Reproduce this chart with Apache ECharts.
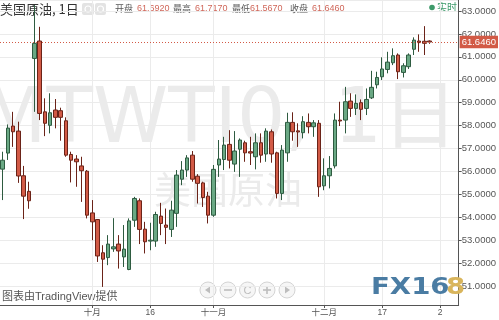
<!DOCTYPE html>
<html><head><meta charset="utf-8">
<script src="https://cdn.jsdelivr.net/npm/echarts@6/dist/echarts.min.js"></script>
<style>html,body{margin:0;padding:0;background:#fff}#c{width:499px;height:320px}</style>
</head><body><div id="c"></div>
<script>
const openVals = [56.10,56.80,57.98,57.76,55.81,55.13,60.93,61.69,58.60,58.01,
 58.68,58.65,58.21,56.74,56.54,56.24,56.01,54.19,53.90,52.45,
 52.24,52.62,52.83,52.27,51.72,53.87,54.72,53.48,52.96,52.96,
 54.05,53.66,53.47,54.17,55.66,56.06,56.71,55.79,55.50,54.92,
 54.09,56.28,56.52,57.18,56.32,56.97,57.25,56.86,56.64,57.25,
 56.76,57.73,56.81,55.04,56.81,58.14,57.77,57.69,58.14,57.95,
 58.10,55.37,55.81,56.24,58.24,58.24,59.07,58.75,59.00,58.75,
 59.21,59.78,60.13,60.45,60.74,61.08,60.32,60.57,61.33,61.69,
 61.68,61.692];
const closeVals = [56.49,57.89,57.73,55.80,54.92,54.72,61.59,58.53,58.10,58.56,
 58.36,58.36,56.71,56.49,56.42,56.03,54.09,53.80,52.31,52.17,
 52.83,52.71,52.53,52.61,53.84,54.82,53.47,52.93,53.00,54.12,
 53.73,53.56,54.31,55.84,56.06,56.59,55.66,55.48,54.86,54.09,
 56.09,56.54,57.15,56.49,56.89,57.37,56.81,56.80,57.25,56.71,
 57.76,56.76,55.04,56.93,58.14,57.73,57.72,58.17,57.95,58.12,
 55.33,55.81,56.13,58.24,58.20,59.04,58.75,58.97,58.71,59.14,
 59.67,60.10,60.47,60.77,61.05,60.35,60.61,61.08,61.73,61.62,
 61.59,61.646];
const lowVals = [54.75,56.50,57.07,55.50,53.92,54.37,58.60,58.24,57.54,57.66,
 57.88,57.34,56.64,55.52,55.33,54.67,53.95,53.00,52.05,50.96,
 51.91,52.49,51.76,51.83,51.69,53.58,52.83,52.42,52.56,52.71,
 53.22,52.83,53.14,53.58,55.40,55.76,55.55,54.60,54.45,53.73,
 54.02,55.76,56.06,56.13,55.98,55.76,56.42,56.28,56.09,56.38,
 56.42,56.38,54.82,54.75,56.42,57.34,57.07,57.44,57.66,57.51,
 54.89,55.18,55.26,56.13,57.98,57.66,58.38,58.46,58.24,58.46,
 59.16,59.62,59.99,60.28,60.64,60.03,60.10,60.47,61.08,61.22,
 61.08,61.567];
const highVals = [56.86,58.05,58.60,58.17,56.24,55.55,63.26,62.31,59.19,59.41,
 59.16,58.78,58.36,56.86,56.71,56.64,56.06,54.75,53.92,52.78,
 53.22,53.96,53.22,53.66,53.95,54.89,54.82,53.80,53.76,54.24,
 54.63,54.38,54.72,56.06,56.45,56.71,56.89,55.88,55.55,55.11,
 56.28,57.37,57.51,57.80,57.76,57.44,57.34,57.51,57.66,57.66,
 57.88,57.83,56.86,57.15,58.56,58.58,58.10,58.41,58.53,58.24,
 58.24,56.57,56.67,58.53,59.04,59.69,59.41,59.36,59.14,59.62,
 60.39,60.35,60.98,61.22,61.37,61.15,60.72,61.15,61.85,61.98,
 62.34,61.717];
const slotCount = 87;
const tickIndex = [17, 28, 40, 61, 72, 83];
const tickText = ['十月', '16', '十一月', '十二月', '17', '2'];
const headerLabels = ['开盘', '最高', '最低', '收盘'];
const titleText = '美国原油, 1日';

const last = openVals.length - 1;
const headerValues = [openVals[last], highVals[last], lowVals[last], closeVals[last]].map(v => v.toFixed(4));
const categories = Array.from({length: slotCount}, (_, i) => String(i));
const candleData = openVals.map((o, i) => [o, closeVals[i], lowVals[i], highVals[i]]);
const isTick = (i) => tickIndex.indexOf(i) >= 0;

const UP = '#6aa884', UPB = '#2e5b40', DN = '#d25a46', DNB = '#6b2318';
const CJK = '"Noto Sans CJK SC", sans-serif';
const LAT = '"Liberation Sans", "Noto Sans CJK SC", sans-serif';

function txt(x, y, text, font, fill, align, extra) {
  return Object.assign({type: 'text', x: x, y: y, silent: true, style: {
    text: text, font: font, fill: fill, textAlign: align || 'left', align: align || 'left',
    textVerticalAlign: 'middle', verticalAlign: 'middle'}}, extra || {});
}

const hdrX = [[115, 137], [173, 195], [232, 250], [290, 312]];
const graphics = [];
// watermark
graphics.push(txt(-19, 122, 'MTWTI0, 1日', '76px "DejaVu Sans", "Noto Sans CJK SC", sans-serif', '#ebebeb', 'left', {z: -10}));
graphics.push(txt(228, 190, '美国原油', '37px ' + CJK, '#ebebeb', 'center', {z: -10}));
// title
graphics.push(txt(0, 9, titleText, '13px ' + CJK, '#333', 'left'));
graphics.push({type: 'rect', shape: {x: 82, y: 3, width: 12, height: 12, r: 2}, style: {fill: '#e3e3e3'}});
graphics.push({type: 'circle', shape: {cx: 88, cy: 9, r: 3}, style: {fill: 'none', stroke: '#fff', lineWidth: 1.2}});
graphics.push({type: 'rect', shape: {x: 95, y: 3, width: 11, height: 12, r: 2}, style: {fill: '#e3e3e3'}});
graphics.push({type: 'circle', shape: {cx: 100.5, cy: 9, r: 3}, style: {fill: 'none', stroke: '#fff', lineWidth: 1.2}});
headerLabels.forEach((l, i) => {
  graphics.push(txt(hdrX[i][0], 8.5, l, '9px ' + CJK, '#555', 'left'));
  graphics.push(txt(hdrX[i][1], 8.5, headerValues[i], '9px ' + LAT, '#d0675a', 'left'));
});
// realtime
graphics.push({type: 'circle', shape: {cx: 432, cy: 7.5, r: 2.8}, style: {fill: '#3d9a6a'}});
graphics.push(txt(437, 7.5, '实时', '10px ' + CJK, '#3d9a6a', 'left'));
// attribution
graphics.push(txt(2, 296.5, '图表由TradingView提供', '11px ' + LAT, '#555', 'left'));
// zoom buttons
const bx = [208, 228, 247.5, 267, 287];
bx.forEach(cx => graphics.push({type: 'circle', shape: {cx: cx, cy: 290, r: 8}, style: {fill: '#f6f6f6', stroke: '#d4d4d4', lineWidth: 1}}));
graphics.push({type: 'polygon', shape: {points: [[210, 286.5], [210, 293.5], [205, 290]]}, style: {fill: '#bdbdbd'}});
graphics.push({type: 'rect', shape: {x: 224, y: 289.2, width: 8, height: 1.6}, style: {fill: '#bdbdbd'}});
graphics.push(txt(247.5, 290.5, 'C', '11px ' + LAT, '#bdbdbd', 'center'));
graphics.push({type: 'rect', shape: {x: 263, y: 289.2, width: 8, height: 1.6}, style: {fill: '#bdbdbd'}});
graphics.push({type: 'rect', shape: {x: 266.2, y: 286, width: 1.6, height: 8}, style: {fill: '#bdbdbd'}});
graphics.push({type: 'polygon', shape: {points: [[285, 286.5], [285, 293.5], [290, 290]]}, style: {fill: '#bdbdbd'}});
// logo
graphics.push(txt(371, 288.5, 'FX16', 'bold 23px "DejaVu Sans", sans-serif', '#4a7ca3', 'left', {scaleX: 1.2, z: 5}));
graphics.push(txt(446, 288.5, '8', 'bold 23px "DejaVu Sans", sans-serif', '#d9b55c', 'left', {scaleX: 1.2, z: 5}));

const chart = echarts.init(document.getElementById('c'), null, {renderer: 'canvas'});
chart.setOption({
  animation: false,
  backgroundColor: '#fff',
  grid: {left: 0, right: 36.3, top: 0, bottom: 15, containLabel: false},
  xAxis: {
    type: 'category', data: categories, boundaryGap: true,
    axisLine: {show: true, lineStyle: {color: '#555', width: 1}},
    axisTick: {show: true, alignWithLabel: true, length: 3, interval: (i) => isTick(i), lineStyle: {color: '#555'}},
    axisLabel: {show: true, interval: (i) => isTick(i), margin: 3, fontSize: 8.5, color: '#555', fontFamily: LAT,
      formatter: (v, i) => { const k = tickIndex.indexOf(i); return k >= 0 ? tickText[k] : ''; }},
    splitLine: {show: true, alignWithLabel: true, interval: (i) => isTick(i), lineStyle: {color: '#ebebeb', width: 1}}
  },
  yAxis: {
    type: 'value', position: 'right', scale: true, min: 50.171, max: 63.48,
    splitNumber: 13, minInterval: 1, maxInterval: 1,
    axisLine: {show: true, lineStyle: {color: '#555', width: 1}},
    axisTick: {show: true, length: 3, lineStyle: {color: '#555'}},
    axisLabel: {show: true, showMinLabel: false, showMaxLabel: false, margin: 3, fontSize: 9.5, color: '#555', fontFamily: LAT,
      formatter: (v) => Math.abs(v - Math.round(v)) < 1e-6 ? v.toFixed(4) : ''},
    splitLine: {show: true, lineStyle: {color: '#ebebeb', width: 1}}
  },
  series: [{
    type: 'candlestick', data: candleData, barWidth: 4,
    itemStyle: {color: UP, color0: DN, borderColor: UPB, borderColor0: DNB, borderWidth: 1},
    markLine: {
      silent: true, symbol: ['none', 'none'], animation: false,
      data: [{yAxis: closeVals[last]}],
      lineStyle: {color: '#d25a46', type: [1, 2], width: 1},
      label: {show: true, position: 'end', distance: 1, formatter: () => closeVals[last].toFixed(4),
        backgroundColor: '#d25a46', color: '#fff', fontSize: 9.5, fontFamily: LAT, padding: [2, 2, 1, 2]}
    }
  }],
  graphic: {elements: graphics}
});
</script></body></html>
